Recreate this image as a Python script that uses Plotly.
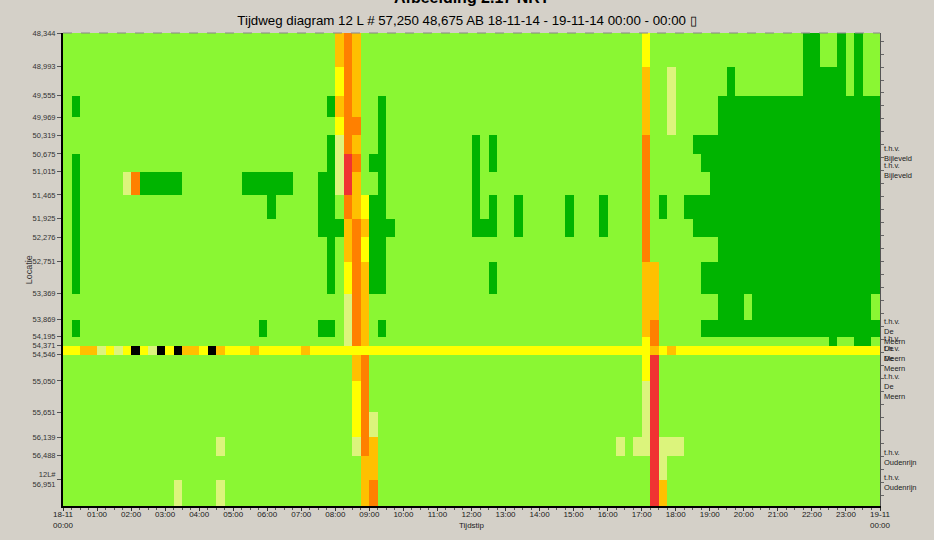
import plotly.graph_objects as go

# Location boundaries (km, hectometre style) of the measured road segments
LOCATION_EDGES = [48344, 48993, 49555, 49969, 50319, 50675, 51015, 51465, 51925,
                  52276, 52751, 53369, 53869, 54195, 54371, 54546, 55050, 55651,
                  56139, 56488, 56951, 57460]
LOCATION_TICKS = LOCATION_EDGES[:-1]
LOCATION_LABELS = ["48,344", "48,993", "49,555", "49,969", "50,319", "50,675",
                   "51,015", "51,465", "51,925", "52,276", "52,751", "53,369",
                   "53,869", "54,195", "54,371", "54,546", "55,050", "55,651",
                   "56,139", "56,488", "12L#<br>56,951"]

# Time axis: 15-minute intervals over one day
INTERVALS_PER_HOUR = 4
HOUR_TICKS = list(range(0, 25))
HOUR_LABELS = ["18-11<br>00:00"] + [f"{h:02d}:00" for h in range(1, 24)] + ["19-11<br>00:00"]

# Traffic state per cell; codes: '.' free flow, 'g' fast, 'p' slight,
# 'y' moderate, 'a' slow, 'o' congested, 'r' jammed, 'k' standstill
STATE_CODES = [".", "g", "p", "y", "a", "o", "r", "k"]
STATE_COLORS = ["#8AF733", "#00B400", "#DCF47C", "#FFFF00", "#FFC000",
                "#FF8000", "#F03232", "#000000"]

# Per segment row: runs of (first interval, last interval, state)
ROW_RUNS = [
    [(32, 32, "a"), (33, 33, "o"), (34, 34, "a"), (68, 68, "y"),
     (87, 88, "g"), (91, 91, "g"), (93, 93, "g")],
    [(32, 32, "y"), (33, 33, "o"), (34, 34, "a"), (68, 68, "a"), (71, 71, "p"),
     (78, 78, "g"), (87, 91, "g"), (93, 93, "g")],
    [(1, 1, "g"), (31, 31, "g"), (32, 32, "a"), (33, 33, "o"), (34, 34, "a"),
     (37, 37, "g"), (68, 68, "a"), (71, 71, "p"), (77, 95, "g")],
    [(32, 32, "y"), (33, 34, "o"), (37, 37, "g"), (68, 68, "a"), (71, 71, "p"),
     (77, 95, "g")],
    [(31, 31, "g"), (32, 32, "p"), (33, 33, "o"), (34, 34, "a"), (37, 37, "g"),
     (48, 48, "g"), (50, 50, "g"), (68, 68, "o"), (74, 95, "g")],
    [(1, 1, "g"), (31, 31, "g"), (32, 32, "p"), (33, 33, "r"), (34, 34, "o"),
     (36, 37, "g"), (48, 48, "g"), (50, 50, "g"), (68, 68, "o"), (75, 95, "g")],
    [(1, 1, "g"), (7, 7, "p"), (8, 8, "o"), (9, 13, "g"), (21, 26, "g"),
     (30, 31, "g"), (32, 32, "p"), (33, 33, "r"), (34, 34, "a"), (37, 37, "g"),
     (48, 48, "g"), (68, 68, "o"), (76, 95, "g")],
    [(1, 1, "g"), (24, 24, "g"), (30, 31, "g"), (33, 33, "o"), (34, 34, "a"),
     (35, 35, "y"), (36, 37, "g"), (48, 48, "g"), (50, 50, "g"), (53, 53, "g"),
     (59, 59, "g"), (63, 63, "g"), (68, 68, "o"), (70, 70, "g"), (73, 95, "g")],
    [(1, 1, "g"), (30, 32, "g"), (33, 33, "a"), (34, 34, "o"), (35, 35, "a"),
     (36, 38, "g"), (48, 50, "g"), (53, 53, "g"), (59, 59, "g"), (63, 63, "g"),
     (68, 68, "o"), (74, 95, "g")],
    [(1, 1, "g"), (31, 31, "g"), (33, 33, "a"), (34, 34, "o"), (35, 35, "y"),
     (36, 37, "g"), (68, 68, "o"), (77, 95, "g")],
    [(1, 1, "g"), (31, 31, "g"), (33, 33, "y"), (34, 34, "o"), (35, 35, "a"),
     (36, 37, "g"), (50, 50, "g"), (68, 69, "a"), (75, 95, "g")],
    [(33, 33, "p"), (34, 34, "o"), (35, 35, "a"), (68, 69, "a"), (77, 79, "g"),
     (81, 94, "g")],
    [(1, 1, "g"), (23, 23, "g"), (30, 31, "g"), (33, 33, "p"), (34, 34, "o"),
     (35, 35, "a"), (37, 37, "g"), (68, 68, "a"), (69, 69, "o"), (75, 95, "g")],
    [(33, 33, "p"), (34, 34, "o"), (35, 35, "a"), (68, 68, "y"), (69, 69, "o"),
     (90, 90, "g"), (93, 94, "g")],
    [(0, 95, "y"), (2, 3, "a"), (4, 4, "p"), (6, 6, "p"), (8, 8, "k"),
     (10, 10, "p"), (11, 11, "k"), (13, 13, "k"), (14, 15, "a"), (17, 17, "k"),
     (18, 18, "a"), (22, 22, "a"), (28, 28, "a"), (69, 69, "a"), (71, 71, "a")],
    [(34, 34, "a"), (35, 35, "o"), (68, 68, "y"), (69, 69, "r")],
    [(34, 34, "y"), (35, 35, "o"), (68, 68, "p"), (69, 69, "r")],
    [(34, 34, "y"), (35, 35, "o"), (36, 36, "p"), (68, 68, "p"), (69, 69, "r")],
    [(18, 18, "p"), (34, 34, "p"), (35, 35, "o"), (36, 36, "a"), (65, 65, "p"),
     (67, 68, "p"), (69, 69, "r"), (70, 72, "p")],
    [(35, 36, "a"), (69, 69, "r"), (70, 70, "p")],
    [(13, 13, "p"), (18, 18, "p"), (35, 35, "a"), (36, 36, "o"), (69, 69, "r"),
     (70, 70, "a")],
]

# Landmark labels on the right-hand side: (location, text)
LANDMARKS = [
    (50440, "t.h.v.<br>Bijleveld"),
    (50780, "t.h.v.<br>Bijleveld"),
    (53770, "t.h.v.<br>De<br>Meern"),
    (54115, "t.h.v.<br>De<br>Meern"),
    (54300, "t.h.v.<br>De<br>Meern"),
    (54835, "t.h.v.<br>De<br>Meern"),
    (56300, "t.h.v.<br>Oudenrijn"),
    (56780, "t.h.v.<br>Oudenrijn"),
]

CAPTION = "Afbeelding 2.17 NRT"
TITLE = "Tijdweg diagram 12 L # 57,250 48,675 AB 18-11-14 - 19-11-14 00:00 - 00:00 \u25af"
X_TITLE = "Tijdstip"
Y_TITLE = "Locatie"

n_cols = 24 * INTERVALS_PER_HOUR
time_edges = [i / INTERVALS_PER_HOUR for i in range(n_cols + 1)]

grid = []
for runs in ROW_RUNS:
    row = [0] * n_cols
    for first, last, code in runs:
        for c in range(first, last + 1):
            row[c] = STATE_CODES.index(code)
    grid.append(row)

n_states = len(STATE_COLORS)
colorscale = []
for i, col in enumerate(STATE_COLORS):
    colorscale.append([i / n_states, col])
    colorscale.append([(i + 1) / n_states, col])

font_family = "Liberation Sans, Arial, sans-serif"

fig = go.Figure()
fig.add_trace(go.Heatmap(
    x=time_edges, y=LOCATION_EDGES, z=grid,
    colorscale=colorscale, zmin=-0.5, zmax=n_states - 0.5,
    showscale=False, hoverinfo="skip",
))
# invisible trace that carries the right-hand axis
fig.add_trace(go.Scatter(x=[0], y=[LOCATION_EDGES[0]], yaxis="y2",
                         mode="markers", marker=dict(opacity=0),
                         showlegend=False, hoverinfo="skip"))

y_range = [LOCATION_EDGES[-1], LOCATION_EDGES[0]]

fig.update_layout(
    width=934, height=540,
    margin=dict(l=63, r=54, t=33, b=34),
    paper_bgcolor="#D4D0C8",
    plot_bgcolor="#8AF733",
    font=dict(family=font_family, color="#1a1a1a"),
    showlegend=False,
    title=dict(text=TITLE, x=0.5, xanchor="center", y=0.963, yanchor="middle",
               font=dict(size=13.3, color="#000000", family=font_family)),
    xaxis=dict(
        range=[0, 24], tickmode="array", tickvals=HOUR_TICKS, ticktext=HOUR_LABELS,
        ticks="outside", ticklen=3, tickcolor="#333", tickfont=dict(size=8),
        ticklabelstandoff=-3,
        showline=True, linecolor="#000", linewidth=1.5, showgrid=False,
        zeroline=False, automargin=False,
        minor=dict(dtick=0.25, ticks="outside", ticklen=2, tickcolor="#555"),
    ),
    yaxis=dict(
        range=y_range, tickmode="array", tickvals=LOCATION_TICKS,
        ticktext=LOCATION_LABELS, ticks="outside", ticklen=4, tickcolor="#555",
        tickfont=dict(size=7.5, color="#333"), showline=True, linecolor="#000",
        linewidth=2, showgrid=False, zeroline=False, automargin=False,
    ),
    yaxis2=dict(
        range=y_range, overlaying="y", side="right", showticklabels=False,
        ticks="outside", ticklen=3, tickcolor="#666", dtick=250, tick0=48250,
        showline=True, linecolor="#555", linewidth=1, showgrid=False,
        zeroline=False, automargin=False,
    ),
)

# dashed frame along the top of the plot
fig.add_shape(type="line", xref="x", yref="paper", x0=0, x1=24, y0=1, y1=1,
              line=dict(color="#888", width=1, dash="dash"))

# caption above the chart, largely cut off by the top of the page
fig.add_annotation(x=0.5, xref="paper", y=1.074, yref="paper", yanchor="middle",
                   text=f"<b>{CAPTION}</b>", showarrow=False,
                   font=dict(size=16, color="#000"))

# axis titles
fig.add_annotation(x=0.5, xref="paper", y=-0.027, yref="paper", yanchor="top",
                   text=X_TITLE, showarrow=False, font=dict(size=8, color="#222"))
fig.add_annotation(x=-0.042, xref="paper", y=0.5, yref="paper", textangle=-90,
                   xanchor="center", yanchor="middle",
                   text=Y_TITLE, showarrow=False, font=dict(size=9, color="#333"))

for loc, text in LANDMARKS:
    fig.add_annotation(x=1.003, xref="paper", xanchor="left", y=loc, yref="y",
                       yanchor="top", text=text, showarrow=False, align="left",
                       font=dict(size=7.5, color="#222"))

fig.write_html("out.html")
